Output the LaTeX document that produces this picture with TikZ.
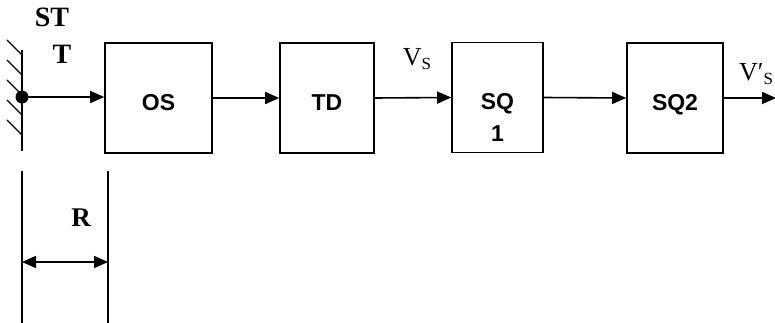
\documentclass[tikz,border=0pt]{standalone}
\usepackage{fontspec}
\setmainfont{Liberation Serif}
\setsansfont{Liberation Sans}
\usepackage{tikz}
\usetikzlibrary{positioning,calc,arrows.meta}

\begin{document}
\begin{tikzpicture}[x=1pt,y=-1pt,
    box/.style={draw, line width=1.6pt, minimum height=110pt, inner sep=0pt,
        align=center, text height=24.5pt, text depth=0pt,
        font=\fontsize{23}{32}\selectfont\sffamily\bfseries},
    flow/.style={line width=1.6pt, -{Triangle[length=14pt,width=12pt]}},
    lbl/.style={inner sep=0pt, font=\fontsize{28}{28}\selectfont\bfseries}]
    \useasboundingbox (0,0) rectangle (775,323);

    % Blocs
    \node[box, minimum width=107pt] (os) at (158.5,98) {OS};
    \node[box, minimum width=94pt] (td) at (327,98) {TD};
    \node[box, minimum width=91pt, text height=87.5pt] (sqa) at (497.5,97.5) {SQ\\1};
    \node[box, minimum width=96pt] (sqb) at (675,98) {SQ2};

    % Paroi
    \draw[line width=1.2pt] (22,50) -- (22,151);
    \foreach \y in {55,75,95,115,135}
        \draw[line width=1.1pt] (22,\y) -- ++(-15,-15);
    \coordinate (dot) at (22,97);
    \fill (dot) circle (6.5pt);
    \node[lbl] (st) at (52,17) {ST};
    \node[lbl] (stt) at (62,54) {T};

    % Liaisons
    \draw[flow] (dot) -- (dot -| os.west);
    \draw[flow] (os.east) -- (td.west);
    \draw[flow] (td.east) -- (sqa.west);
    \draw[flow] (sqa.east) -- (sqb.west);
    \coordinate (out) at (776,98);
    \draw[flow] (sqb.east) -- (out);

    % Signaux
    \node[inner sep=0pt, font=\fontsize{26}{26}\selectfont] (vs) at (417,59)
        {V\raisebox{-4pt}{\fontsize{17}{17}\selectfont S}};
    \node[inner sep=0pt, anchor=west, font=\fontsize{26}{26}\selectfont] (vsp) at (739,74)
        {V′\raisebox{-4pt}{\fontsize{17}{17}\selectfont S}};

    % Cote R
    \coordinate (ra) at (22,171);
    \coordinate (rb) at (108,171);
    \draw[line width=1.2pt] (ra) -- (22,323);
    \draw[line width=1.2pt] (rb) -- (108,323);
    \coordinate (rl) at (22,262);
    \coordinate (rr) at (108,262);
    \draw[line width=1.6pt, {Triangle[length=14pt,width=12pt]}-{Triangle[length=14pt,width=12pt]}] (rl) -- (rr);
    \node[lbl, font=\fontsize{27}{27}\selectfont\bfseries] (r) at (81,218) {R};
\end{tikzpicture}
\end{document}
